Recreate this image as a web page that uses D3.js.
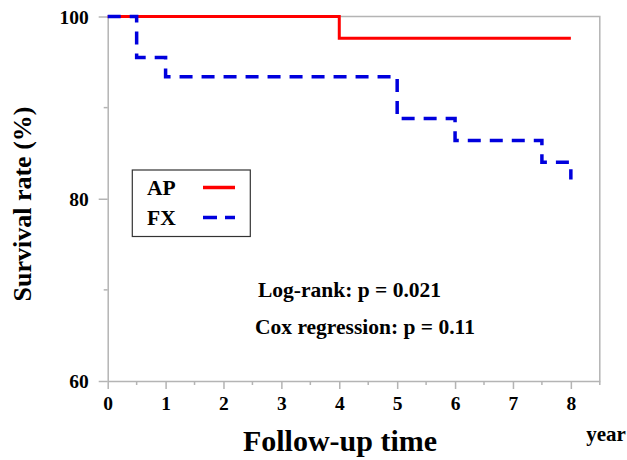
<!DOCTYPE html>
<html lang="en">
<head>
<meta charset="utf-8">
<script src="https://d3js.org/d3.v7.min.js"></script>
<style>
  body { margin: 0; background: #fff; }
  svg text { font-family: "Liberation Serif", "Times New Roman", serif; font-weight: bold; fill: #000; }
</style>
</head>
<body>
<svg id="chart" width="627" height="460"></svg>
<script>
  // survival data (time in years, survival %)
  var apTimes = [0, 4, 8]
  var apSurv  = [100, 97.6, 97.6]
  var fxTimes = [0, 0.5, 1, 5, 6, 7.5, 8]
  var fxSurv  = [100, 95.5, 93.4, 88.8, 86.4, 84.0, 82.1]

  var xTicks = [0, 1, 2, 3, 4, 5, 6, 7, 8]
  var xMinor = [0.5, 1.5, 2.5, 3.5, 4.5, 5.5, 6.5, 7.5, 8.5]
  var yTicks = [60, 80, 100]
  var yMinor = [70, 90]

  var seriesNames = ["AP", "FX"]
  var stats = ["Log-rank: p = 0.021", "Cox regression: p = 0.11"]

  // plot box (note: "top" is reserved on window, so use other names)
  var pLeft = 107.7, pRight = 599.8, pTop = 16.5, pBottom = 381
  var axisColor = "#b4b4b4"

  var x = d3.scaleLinear().domain([0, 8.5]).range([pLeft, pRight])
  var y = d3.scaleLinear().domain([60, 100]).range([pBottom, pTop])

  var svg = d3.select("#chart")

  // frame top/right
  svg.append("path")
     .attr("d", "M" + pLeft + "," + pTop + "H" + pRight + "V" + pBottom)
     .attr("fill", "none").attr("stroke", axisColor).attr("stroke-width", 1.5)

  // x axis
  var xAxis = svg.append("g").attr("transform", "translate(0," + pBottom + ")")
  xAxis.call(d3.axisBottom(x).tickValues(xTicks).tickSize(8).tickSizeOuter(0).tickPadding(7))
  xAxis.append("g").selectAll("line").data(xMinor).enter().append("line")
       .attr("x1", function(d) { return x(d) }).attr("x2", function(d) { return x(d) })
       .attr("y1", 0).attr("y2", 4).attr("stroke", axisColor).attr("stroke-width", 1.5)

  // y axis
  var yAxis = svg.append("g").attr("transform", "translate(" + pLeft + ",0)")
  yAxis.call(d3.axisLeft(y).tickValues(yTicks).tickSize(9).tickSizeOuter(0).tickPadding(10))
  yAxis.append("g").selectAll("line").data(yMinor).enter().append("line")
       .attr("y1", function(d) { return y(d) }).attr("y2", function(d) { return y(d) })
       .attr("x1", 0).attr("x2", -4).attr("stroke", axisColor).attr("stroke-width", 1.5)

  svg.selectAll(".domain, .tick line").attr("stroke", axisColor).attr("stroke-width", 1.5)
  svg.selectAll(".tick text").attr("font-size", 19.5)
  xAxis.selectAll(".tick text").attr("dy", "0.72em")
  yAxis.selectAll(".tick text").attr("dy", "0.34em")

  var line = d3.line()
      .x(function(d) { return x(d[0]) })
      .y(function(d) { return y(d[1]) })
      .curve(d3.curveStepAfter)

  var apData = d3.zip(apTimes, apSurv)
  var fxData = d3.zip(fxTimes, fxSurv)

  svg.append("path").datum(apData).attr("d", line)
     .attr("fill", "none").attr("stroke", "#ff0000").attr("stroke-width", 3)

  svg.append("path").datum(fxData).attr("d", line)
     .attr("fill", "none").attr("stroke", "#0000dd").attr("stroke-width", 3.5)
     .attr("stroke-dasharray", "13,9")

  // legend
  var legend = svg.append("g")
  legend.append("rect").attr("x", 132.3).attr("y", 170).attr("width", 118).attr("height", 66.5)
        .attr("fill", "#fff").attr("stroke", "#333").attr("stroke-width", 1.2)
  var legendColors = ["#ff0000", "#0000dd"]
  var legendDash = [null, "14,8"]
  seriesNames.forEach(function(name, i) {
    var ly = 187.5 + i * 30
    legend.append("text").attr("x", 147).attr("y", ly + 7).attr("font-size", 21.5).text(name)
    legend.append("line").attr("x1", 203).attr("x2", 235).attr("y1", ly).attr("y2", ly)
          .attr("stroke", legendColors[i]).attr("stroke-width", 3.5)
          .attr("stroke-dasharray", legendDash[i])
  })

  // stats text
  svg.selectAll(".stat").data(stats).enter().append("text").attr("class", "stat")
     .attr("x", function(d, i) { return i == 0 ? 258 : 255 })
     .attr("y", function(d, i) { return 296.5 + i * 37.5 })
     .attr("font-size", 21.5)
     .text(function(d) { return d })

  // axis titles
  svg.append("text").attr("x", 340).attr("y", 451).attr("text-anchor", "middle")
     .attr("font-size", 30).text("Follow-up time")
  svg.append("text").attr("x", 606).attr("y", 441).attr("text-anchor", "middle")
     .attr("font-size", 21).text("year")
  svg.append("text").attr("transform", "translate(31,204) rotate(-90)")
     .attr("text-anchor", "middle").attr("font-size", 26).text("Survival rate (%)")
</script>
</body>
</html>
